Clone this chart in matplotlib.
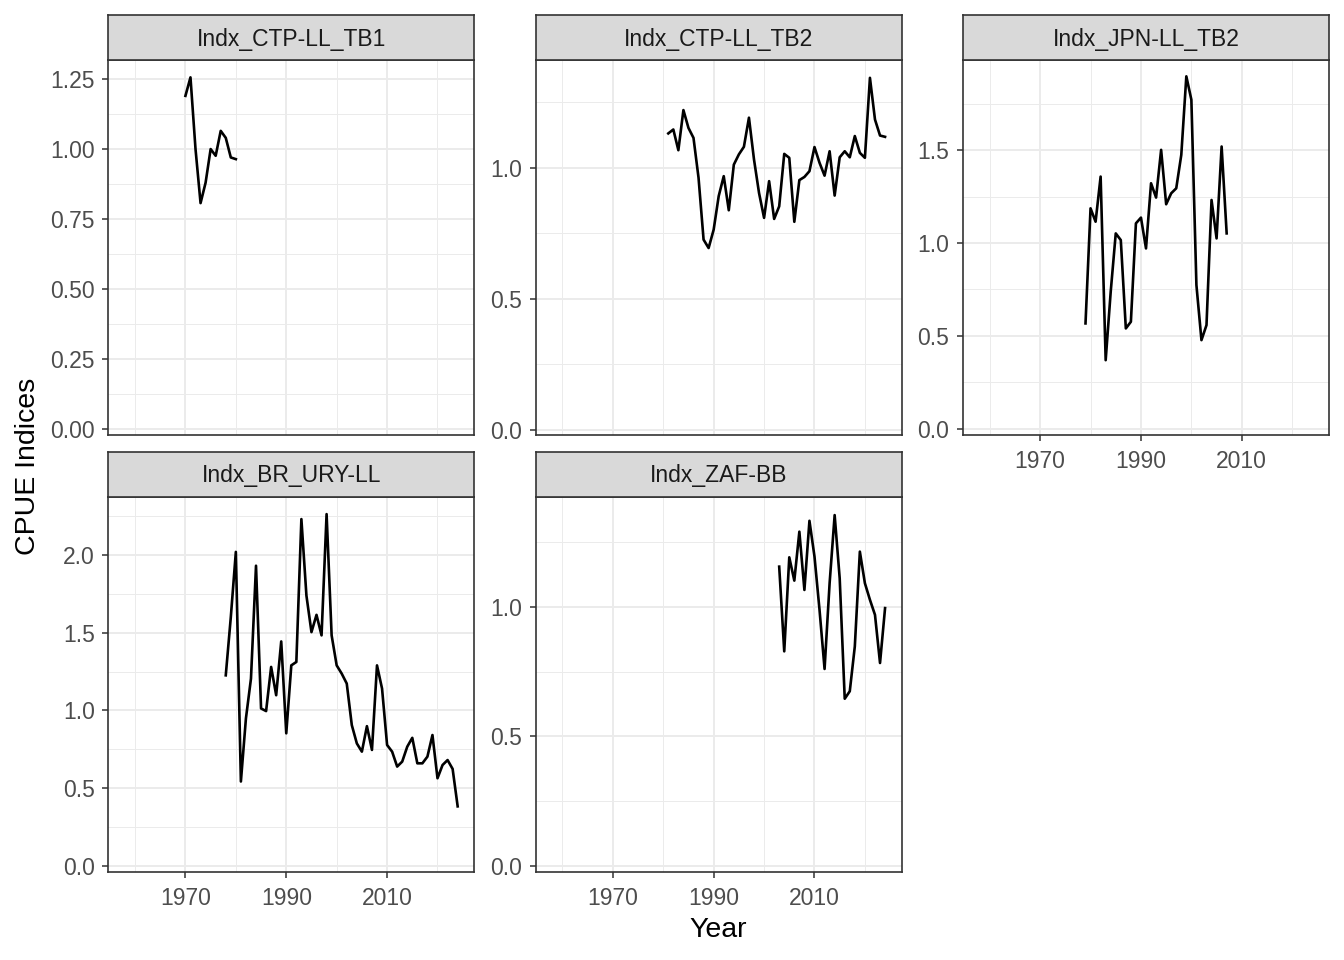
import numpy as np
import matplotlib
matplotlib.use("Agg")
import matplotlib.pyplot as plt
from matplotlib.ticker import MultipleLocator, FixedLocator

plt.rcParams["font.family"] = ["Liberation Sans", "DejaVu Sans"]

# CPUE index series (one value per year)
ctp_tb1_years = np.arange(1970, 1981)
ctp_tb1 = [1.19, 1.256, 1.00, 0.807, 0.88, 1.00, 0.976, 1.065, 1.04, 0.97, 0.964]

ctp_tb2_years = np.arange(1981, 2025)
ctp_tb2 = [1.130, 1.145, 1.066, 1.219, 1.151, 1.113, 0.961, 0.725, 0.693, 0.763,
           0.891, 0.967, 0.837, 1.011, 1.050, 1.079, 1.190, 1.031, 0.903, 0.808,
           0.948, 0.804, 0.852, 1.052, 1.037, 0.793, 0.952, 0.964, 0.986, 1.078,
           1.018, 0.969, 1.062, 0.893, 1.039, 1.062, 1.039, 1.120, 1.056, 1.037,
           1.342, 1.183, 1.122, 1.117]

jpn_years = np.arange(1979, 2008)
jpn = [0.567, 1.187, 1.115, 1.358, 0.369, 0.738, 1.052, 1.016, 0.540, 0.576,
       1.106, 1.137, 0.971, 1.322, 1.245, 1.502, 1.209, 1.268, 1.295, 1.475,
       1.898, 1.772, 0.774, 0.477, 0.558, 1.232, 1.025, 1.520, 1.052]

br_years = np.arange(1978, 2025)
br = [1.226, 1.60, 2.02, 0.543, 0.949, 1.205, 1.931, 1.013, 0.996, 1.28,
      1.098, 1.444, 0.853, 1.29, 1.312, 2.231, 1.739, 1.504, 1.615, 1.483,
      2.263, 1.483, 1.29, 1.237, 1.173, 0.906, 0.788, 0.735, 0.899, 0.746,
      1.29, 1.141, 0.778, 0.735, 0.639, 0.671, 0.767, 0.824, 0.660, 0.660,
      0.703, 0.842, 0.564, 0.649, 0.681, 0.624, 0.383]

zaf_years = np.arange(2003, 2025)
zaf = [1.155, 0.828, 1.191, 1.101, 1.290, 1.065, 1.332, 1.194, 0.988, 0.760,
       1.091, 1.354, 1.11, 0.645, 0.674, 0.847, 1.213, 1.091, 1.027, 0.969,
       0.783, 0.995]

names = ["Indx_CTP-LL_TB1", "Indx_CTP-LL_TB2", "Indx_JPN-LL_TB2",
         "Indx_BR_URY-LL", "Indx_ZAF-BB"]
series = [(ctp_tb1_years, ctp_tb1), (ctp_tb2_years, ctp_tb2), (jpn_years, jpn),
          (br_years, br), (zaf_years, zaf)]

# per-panel y limits and tick steps (free y scales)
ylims = [(-0.021, 1.318), (-0.02, 1.41), (-0.034, 1.986), (-0.041, 2.375), (-0.025, 1.425)]
ystep = [0.25, 0.5, 0.5, 0.5, 0.5]
yfmt = ["{:.2f}", "{:.1f}", "{:.1f}", "{:.1f}", "{:.1f}"]

W, H = 1344, 960
fig = plt.figure(figsize=(W / 100, H / 100), dpi=100)

col_left = [108.3, 535.7, 963.0]
pw = 366
rows = [(14.7, 60.0, 435.0), (451.7, 496.7, 872.3)]  # strip top, panel top, panel bottom

border = "#333333"
grid = "#EBEBEB"

for i, name in enumerate(names):
    r, c = divmod(i, 3)
    st, pt, pb = rows[r]
    x0 = col_left[c]
    ax = fig.add_axes([x0 / W, 1 - pb / H, pw / W, (pb - pt) / H])
    sax = fig.add_axes([x0 / W, 1 - pt / H, pw / W, (pt - st) / H])

    yrs, vals = series[i]
    ax.plot(yrs, vals, color="black", lw=1.9, zorder=3)

    ax.set_xlim(1954.7, 2027.3)
    ax.set_ylim(*ylims[i])
    ax.xaxis.set_major_locator(FixedLocator([1970, 1990, 2010]))
    ax.xaxis.set_minor_locator(FixedLocator([1960, 1980, 2000, 2020]))
    ax.yaxis.set_minor_locator(MultipleLocator(ystep[i] / 2))
    yt = np.arange(0, ylims[i][1], ystep[i])
    ax.set_yticks(yt)
    ax.set_yticklabels([yfmt[i].format(t) for t in yt])

    ax.grid(which="major", color=grid, lw=1.4, zorder=0)
    ax.grid(which="minor", color=grid, lw=0.7, zorder=0)
    ax.set_axisbelow(True)
    for s in ax.spines.values():
        s.set_color(border)
        s.set_linewidth(1.2)
    ax.tick_params(which="major", length=4.3, width=1.1, color=border,
                   labelsize=16.5, labelcolor="#4D4D4D")
    ax.tick_params(axis="y", pad=5.5)
    ax.tick_params(axis="x", pad=6.5)
    ax.tick_params(which="minor", length=0)

    # x labels only where no panel sits below
    if i in (0, 1):
        ax.tick_params(axis="x", which="both", length=0, labelbottom=False)

    sax.set_facecolor("#D9D9D9")
    sax.set_xticks([])
    sax.set_yticks([])
    for s in sax.spines.values():
        s.set_color(border)
        s.set_linewidth(1.2)
    sax.text(0.5, 0.46, name, ha="center", va="center", fontsize=16.5,
             color="#1A1A1A", transform=sax.transAxes)

fig.text(718 / W, 1 - 930 / H, "Year", ha="center", va="center", fontsize=20.5)
fig.text(28 / W, 1 - 466 / H, "CPUE Indices", ha="center", va="center",
         fontsize=20.5, rotation=90)

fig.savefig("out.png", dpi=100)
